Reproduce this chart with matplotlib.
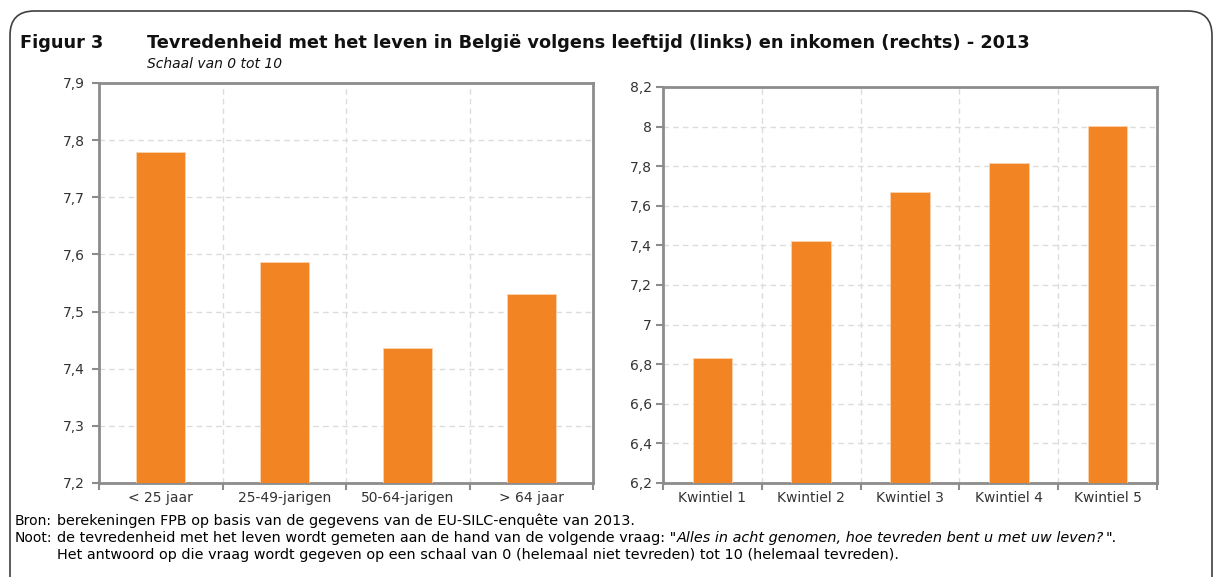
import matplotlib
matplotlib.use("Agg")
import matplotlib.pyplot as plt
from matplotlib.patches import FancyBboxPatch
import numpy as np

# ---- data ----
age_labels = ["< 25 jaar", "25-49-jarigen", "50-64-jarigen", "> 64 jaar"]
age_values = [7.779, 7.586, 7.436, 7.531]
inc_labels = ["Kwintiel 1", "Kwintiel 2", "Kwintiel 3", "Kwintiel 4", "Kwintiel 5"]
inc_values = [6.83, 7.42, 7.668, 7.817, 8.003]
left_yticks = [7.2, 7.3, 7.4, 7.5, 7.6, 7.7, 7.8, 7.9]
right_yticks = [6.2, 6.4, 6.6, 6.8, 7.0, 7.2, 7.4, 7.6, 7.8, 8.0, 8.2]

title_num = "Figuur 3"
title = "Tevredenheid met het leven in België volgens leeftijd (links) en inkomen (rechts) - 2013"
subtitle = "Schaal van 0 tot 10"

plt.rcParams['font.family'] = ['DejaVu Sans']

W, H = 1215, 577
fig = plt.figure(figsize=(W / 100, H / 100), dpi=100)

ORANGE = "#F28424"
SPINE = "#8C8C8C"
GRID = "#DCDCDC"
TICKTXT = "#333333"


def fx(px):
    return px / W


def fy(py):
    return 1 - py / H


# outer rounded frame
frame = FancyBboxPatch((fx(10), fy(600)), fx(1202), fy(11) - fy(600),
                       boxstyle="round,pad=0,rounding_size=0.02",
                       transform=fig.transFigure, fill=False,
                       edgecolor="#404040", linewidth=1.2, clip_on=False,
                       mutation_aspect=W / H)
fig.patches.append(frame)


def fmt(v):
    s = f"{round(v, 2):g}"
    return s.replace(".", ",")


def make_axes(rect, labels, values, yticks, ypad):
    ax = fig.add_axes(rect)
    n = len(labels)
    x = np.arange(n)
    ax.bar(x, values, width=0.4, color=ORANGE, edgecolor="#FBD3B0",
           linewidth=0.6, zorder=3)
    ax.set_xlim(-0.5, n - 0.5)
    ax.set_ylim(yticks[0], yticks[-1])
    ax.set_yticks(yticks)
    ax.set_yticklabels([fmt(v) for v in yticks])
    ax.set_xticks(np.arange(n + 1) - 0.5)
    ax.set_xticklabels([])
    ax.set_xticks(x, minor=True)
    ax.set_xticklabels(labels, minor=True)
    ax.tick_params(axis="x", which="minor", length=0, pad=6,
                   labelsize=10, labelcolor=TICKTXT)
    ax.tick_params(axis="x", which="major", length=5, width=1.5,
                   color=SPINE, direction="out")
    ax.tick_params(axis="y", length=5, width=1.5, color=SPINE,
                   labelsize=10, labelcolor=TICKTXT, pad=ypad)
    for s in ax.spines.values():
        s.set_color(SPINE)
        s.set_linewidth(2.0)
    ax.grid(True, which="major", axis="both", color=GRID,
            linestyle=(0, (4, 3)), linewidth=1.0, zorder=0)
    ax.set_axisbelow(True)
    return ax


ax1 = make_axes([fx(99), fy(483), fx(494), fy(83) - fy(483)],
                age_labels, age_values, left_yticks, 5)
ax2 = make_axes([fx(663), fy(483), fx(494), fy(87) - fy(483)],
                inc_labels, inc_values, right_yticks, 3)

# titles
fig.text(fx(20), fy(48), title_num, fontsize=12.8, fontweight="bold",
         color="#111111", va="baseline")
fig.text(fx(147), fy(48), title, fontsize=12.8, fontweight="bold",
         color="#111111", va="baseline")
fig.text(fx(147), fy(68), subtitle, fontsize=10, style="italic",
         color="#111111", va="baseline")

# footnotes
fs = 10.4
lab_fs = 10
fig.text(fx(15), fy(525), "Bron:", fontsize=lab_fs, va="baseline")
fig.text(fx(57), fy(525),
         "berekeningen FPB op basis van de gegevens van de EU-SILC-enquête van 2013.",
         fontsize=fs, va="baseline")
fig.text(fx(15), fy(542), "Noot:", fontsize=lab_fs, va="baseline")

renderer = fig.canvas.get_renderer()
parts = [("de tevredenheid met het leven wordt gemeten aan de hand van de volgende vraag: \"", "normal"),
         ("Alles in acht genomen, hoe tevreden bent u met uw leven?", "italic"),
         ("\".", "normal")]
xpos = 57
for txt, st in parts:
    t = fig.text(fx(xpos), fy(542), txt, fontsize=fs, style=st, va="baseline")
    bb = t.get_window_extent(renderer=renderer)
    xpos = bb.x1 + 1
fig.text(fx(57), fy(559),
         "Het antwoord op die vraag wordt gegeven op een schaal van 0 (helemaal niet tevreden) tot 10 (helemaal tevreden).",
         fontsize=fs, va="baseline")

fig.savefig("out.png", dpi=100)
